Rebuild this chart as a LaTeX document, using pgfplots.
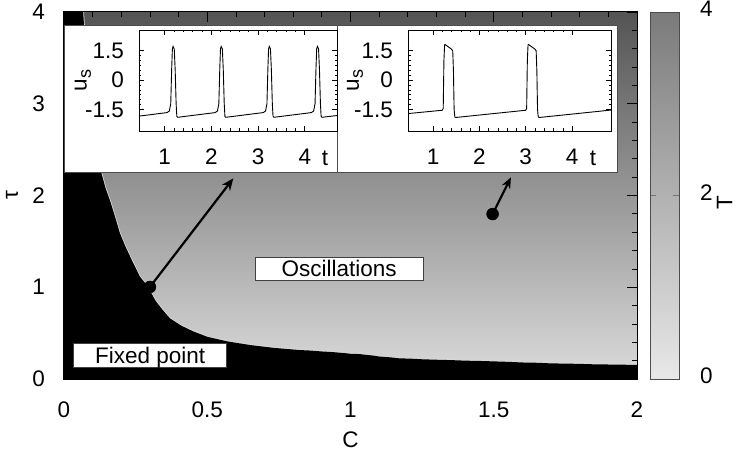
\documentclass[border=0pt]{standalone}
\usepackage{fontspec}
\setmainfont{Liberation Sans}
\usepackage{pgfplots}
\pgfplotsset{compat=1.18}
\usetikzlibrary{arrows.meta}
\newcommand\ff{\fontsize{22.5}{26}\selectfont}
\pgfplotsset{/pgf/number format/assume math mode=true}

\begin{document}
\begin{tikzpicture}
\useasboundingbox (-64pt,-79pt) rectangle (674pt,379pt);
\begin{axis}[
  at={(0pt,0pt)}, anchor=south west,
  scale only axis, width=573pt, height=367pt,
  xmin=0, xmax=2, ymin=0, ymax=4,
  xtick={0,0.5,1,1.5,2}, ytick={0,1,2,3,4},
  minor x tick num=4, minor y tick num=4,
  tick align=inside, major tick length=10pt, minor tick length=5pt,
  tick style={black, line width=0.8pt},
  axis on top,
  axis line style={line width=1pt},
  tick label style={font=\ff, inner sep=0pt},
  xticklabel style={anchor=north, yshift=-23pt},
  yticklabel style={anchor=east, xshift=-19pt},
  xlabel={C}, ylabel={τ},
  every axis x label/.style={at={(axis description cs:0.5,-0.1662)}, anchor=center, font=\ff},
  every axis y label/.style={at={(axis description cs:-0.0908,0.5)}, anchor=center, rotate=90, font=\ff},
  colormap={maingray}{gray(0cm)=(0.86); gray(1cm)=(0.33)},
  point meta min=0, point meta max=4,
]
% background period map
\addplot[surf, shader=interp, mesh/cols=2, point meta=explicit] table[x=C, y=tau, meta=T] {
C tau T
0 0 0
2 0 0
0 1 1
2 1 1
0 2 2
2 2 2
0 3 3
2 3 3
0 4 4
2 4 4
};
% light edge along the boundary
\addplot[draw=white!85!black, line width=1.6pt] coordinates {
(0.067,4.0) (0.075,3.6) (0.085,3.2) (0.10,2.75) (0.115,2.45) (0.13,2.25) (0.145,2.08) (0.16,1.95) (0.18,1.75) (0.195,1.59) (0.215,1.44) (0.236,1.30) (0.265,1.115) (0.29,1.02) (0.32,0.85) (0.345,0.75) (0.37,0.66) (0.41,0.58) (0.45,0.52) (0.50,0.46) (0.57,0.41) (0.65,0.37) (0.73,0.34) (0.82,0.316) (0.9,0.30) (0.95,0.29) (1.0,0.275) (1.05,0.265) (1.1,0.245) (1.17,0.225) (1.25,0.215) (1.3,0.21) (1.4,0.2) (1.52,0.19) (1.6,0.18) (1.7,0.17) (1.8,0.165) (1.9,0.158) (2.0,0.153)
};
% fixed point region
\addplot[fill=black, draw=none] coordinates {
(0,0) (0,4)
(0.067,4.0) (0.075,3.6) (0.085,3.2) (0.10,2.75) (0.115,2.45) (0.13,2.25) (0.145,2.08) (0.16,1.95) (0.18,1.75) (0.195,1.59) (0.215,1.44) (0.236,1.30) (0.265,1.115) (0.29,1.02) (0.32,0.85) (0.345,0.75) (0.37,0.66) (0.41,0.58) (0.45,0.52) (0.50,0.46) (0.57,0.41) (0.65,0.37) (0.73,0.34) (0.82,0.316) (0.86,0.31) (0.9,0.30) (0.93,0.295) (0.95,0.29) (0.98,0.282) (1.0,0.275) (1.03,0.272) (1.05,0.265) (1.08,0.255) (1.1,0.245) (1.14,0.236) (1.17,0.225) (1.21,0.222) (1.25,0.215) (1.3,0.21) (1.35,0.206) (1.4,0.2) (1.46,0.196) (1.52,0.19) (1.56,0.186) (1.6,0.18) (1.65,0.177) (1.7,0.17) (1.75,0.168) (1.8,0.165) (1.85,0.16) (1.9,0.158) (1.95,0.156) (2.0,0.153)
(2,0)
} -- cycle;
% arrows and dots
\addplot[black, line width=2.2pt, -{Stealth[length=12pt, width=10pt]}] coordinates {(0.300,1.003) (0.591,2.187)};
\addplot[black, line width=2.2pt, -{Stealth[length=11pt, width=9pt]}] coordinates {(1.496,1.798) (1.560,2.198)};
\addplot[only marks, mark=*, mark size=6pt, black] coordinates {(0.300,1.003) (1.496,1.798)};
% labels
\node[fill=white, draw=black!75, line width=0.8pt, inner sep=0pt, minimum width=168pt, text height=19.5pt, text depth=3.8pt, anchor=base, font=\ff] at (axis cs:0.960,1.115) {Oscillations};
\node[fill=white, draw=black!75, line width=0.8pt, inner sep=0pt, minimum width=153pt, text height=19.5pt, text depth=3.6pt, anchor=base, font=\ff] at (axis cs:0.301,0.171) {Fixed point};
\end{axis}

% colour bar
\begin{axis}[
  at={(586pt,0pt)}, anchor=south west,
  scale only axis, width=29pt, height=367pt,
  xmin=0, xmax=1, ymin=0, ymax=4,
  xtick=\empty, ytick={0,2,4}, yticklabel pos=right,
  tick align=inside, major tick length=6pt,
  tick style={black!55, line width=0.8pt},
  axis line style={black!70, line width=0.8pt},
  axis on top,
  tick label style={font=\ff, inner sep=0pt},
  yticklabel style={anchor=west, xshift=21pt, yshift=3pt},
  ylabel={T},
  every axis y label/.style={at={(axis description cs:2.569,0.48)}, anchor=center, rotate=90, font=\ff},
  colormap={cbgray}{gray(0cm)=(0.91); gray(1cm)=(0.48)},
  point meta min=0, point meta max=4,
]
\addplot[surf, shader=interp, mesh/cols=2, point meta=explicit] table[x=x, y=T, meta=T] {
x T
0 0
1 0
0 4
1 4
};
\end{axis}

% inset backgrounds
\filldraw[fill=white, draw=black!70, line width=0.8pt] (0.5pt,207pt) rectangle (273pt,354pt);
\filldraw[fill=white, draw=black!70, line width=0.8pt] (273pt,207pt) rectangle (553pt,354pt);

% inset 1
\begin{axis}[
  at={(75pt,248pt)}, anchor=south west,
  scale only axis, width=198pt, height=101pt,
  xmin=0.45, xmax=4.69, ymin=-2.6, ymax=2.56,
  xtick={1,2,3,4}, ytick={-1.5,0,1.5}, yticklabels={-1.5,0,1.5},
  minor x tick num=4, minor y tick num=5,
  tick align=inside, major tick length=5pt, minor tick length=2.5pt,
  tick style={black, line width=0.6pt},
  axis line style={line width=0.8pt},
  tick label style={font=\ff, inner sep=0pt},
  xticklabel style={anchor=north, yshift=-18pt},
  yticklabel style={anchor=east, xshift=-15pt},
  xlabel={t}, ylabel={u\raisebox{-0.35ex}{\fontsize{18}{20}\selectfont s}},
  every axis x label/.style={at={(axis description cs:0.939,-0.267)}, anchor=center, font=\ff},
  every axis y label/.style={at={(axis description cs:-0.283,0.5)}, anchor=center, rotate=90, font=\ff},
]
\addplot[black, line width=0.9pt] coordinates {
(0.45,-1.84)
(1.05,-1.66) (1.10,-1.58) (1.13,-1.2) (1.15,0.6) (1.165,1.6) (1.18,1.72) (1.205,1.6) (1.225,0.5) (1.245,-1.2) (1.26,-1.85) (1.28,-1.9)
(2.08,-1.66) (2.13,-1.58) (2.16,-1.2) (2.18,0.6) (2.195,1.6) (2.21,1.72) (2.235,1.6) (2.255,0.5) (2.275,-1.2) (2.29,-1.85) (2.31,-1.9)
(3.11,-1.66) (3.16,-1.58) (3.19,-1.2) (3.21,0.6) (3.225,1.6) (3.24,1.72) (3.265,1.6) (3.285,0.5) (3.305,-1.2) (3.32,-1.85) (3.34,-1.9)
(4.14,-1.66) (4.19,-1.58) (4.22,-1.2) (4.24,0.6) (4.255,1.6) (4.27,1.72) (4.295,1.6) (4.315,0.5) (4.335,-1.2) (4.35,-1.85) (4.37,-1.9)
(4.69,-1.81)
};
\end{axis}

% inset 2
\begin{axis}[
  at={(344pt,248pt)}, anchor=south west,
  scale only axis, width=203pt, height=101pt,
  xmin=0.46, xmax=4.84, ymin=-2.6, ymax=2.56,
  xtick={1,2,3,4}, ytick={-1.5,0,1.5}, yticklabels={-1.5,0,1.5},
  minor x tick num=4, minor y tick num=5,
  tick align=inside, major tick length=5pt, minor tick length=2.5pt,
  tick style={black, line width=0.6pt},
  axis line style={line width=0.8pt},
  tick label style={font=\ff, inner sep=0pt},
  xticklabel style={anchor=north, yshift=-18pt},
  yticklabel style={anchor=east, xshift=-15pt},
  xlabel={t}, ylabel={u\raisebox{-0.35ex}{\fontsize{18}{20}\selectfont s}},
  every axis x label/.style={at={(axis description cs:0.911,-0.267)}, anchor=center, font=\ff},
  every axis y label/.style={at={(axis description cs:-0.261,0.5)}, anchor=center, rotate=90, font=\ff},
]
\addplot[black, line width=0.9pt] coordinates {
(0.46,-1.71)
(1.20,-1.54) (1.22,-1.45) (1.235,1.0) (1.25,1.8) (1.26,1.82) (1.40,1.58) (1.425,1.5) (1.44,0.5) (1.455,-1.5) (1.47,-1.88) (1.49,-1.91)
(3.00,-1.54) (3.02,-1.45) (3.035,1.0) (3.05,1.8) (3.06,1.82) (3.20,1.58) (3.225,1.5) (3.24,0.5) (3.255,-1.5) (3.27,-1.88) (3.29,-1.91)
(4.84,-1.53)
};
\end{axis}
\end{tikzpicture}
\end{document}
